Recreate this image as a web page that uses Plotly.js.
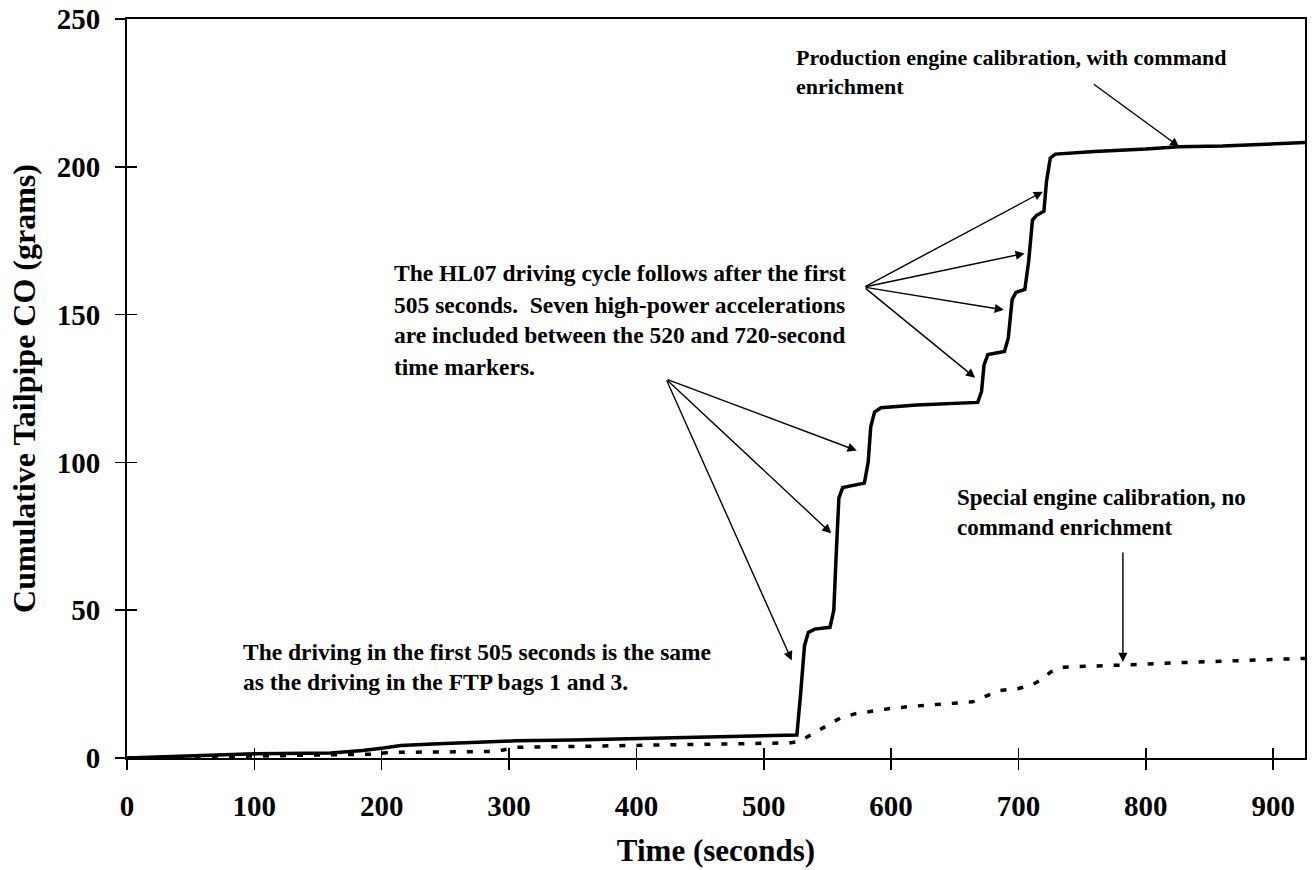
<!DOCTYPE html>
<html>
<head>
<meta charset="utf-8">
<script src="https://cdn.plot.ly/plotly-3.0.1.min.js"></script>
<style>html,body{margin:0;padding:0;background:#fff;}#chart{width:1314px;height:870px;}</style>
</head>
<body>
<div id="chart"></div>
<script>
// Production engine calibration (solid)
const prodTime = [0,20,60,85,100,160,185,200,215,240,280,305,350,411,460,500,526,529,532,535,540,552,555,557,559,562,570,579,582,584,587,592,620,650,668,671,673,676,689,692,695,698,705,708,711,714,720,722,725,729,760,800,826,860,900,925];
const prodCO   = [0,0.3,0.8,1.2,1.4,1.7,2.5,3.3,4.2,4.7,5.3,5.8,6.1,6.7,7.1,7.5,7.8,22,38,42.5,43.6,44.2,50,70,88,91.5,92.3,93,100,112,117,118.5,119.4,119.8,120.3,124,133,136.5,137.5,142,155,157.5,158.5,168,182,183.5,185,195,203,204.3,205.2,206,206.8,207,207.8,208.2];
// Special engine calibration (dotted)
const specTime = [0,50,100,150,195,205,250,290,305,350,420,480,520,528,540,550,560,572,585,600,620,640,664,675,685,700,710,718,725,733,760,785,830,880,925];
const specCO   = [0,0.3,0.8,1,1.3,1.9,2,2.2,3.6,3.9,4.3,4.8,5.1,5.6,8.5,11,13.5,15,15.8,16.8,17.6,18.3,19,21,22.8,23.5,24.6,26.5,29,30.7,31,31.5,32.3,33,33.7];

const xTicks = [0,100,200,300,400,500,600,700,800,900];
const yTicks = [0,50,100,150,200,250];

const FONT = 'Liberation Serif, Times New Roman, serif';

const traces = [
  {x: prodTime, y: prodCO, type: 'scatter', mode: 'lines', line: {color: '#000', width: 3.5}, hoverinfo: 'skip'},
  {x: specTime, y: specCO, xaxis: 'x2', yaxis: 'y2', type: 'scatter', mode: 'lines', line: {color: '#000', width: 3.5, dash: '6px,11px'}, hoverinfo: 'skip'}
];

function textLine(x, y, t, size) {
  return {x: x, y: y, xref: 'x', yref: 'y', text: t, showarrow: false, xanchor: 'left', yanchor: 'middle',
          font: {family: FONT, size: size || 23, color: '#000', weight: 'bold'}};
}
function arrow(hx, hy, tx, ty) {
  return {x: hx, y: hy, ax: tx, ay: ty, xref: 'x', yref: 'y', axref: 'x', ayref: 'y', text: '',
          showarrow: true, arrowhead: 2, arrowsize: 1.3, arrowwidth: 1.4, arrowcolor: '#000', standoff: 0};
}

const annotations = [
  textLine(523.8, 237.1, 'Production engine calibration, with command', 22),
  textLine(523.8, 227.3, 'enrichment', 22),
  textLine(208.1, 164.1, 'The HL07 driving cycle follows after the first', 23.5),
  textLine(208.1, 153.2, '505 seconds.&nbsp; Seven high-power accelerations', 23.5),
  textLine(208.1, 143.1, 'are included between the 520 and 720-second', 23.5),
  textLine(208.1, 132.3, 'time markers.', 23.5),
  textLine(89.5, 35.9, 'The driving in the first 505 seconds is the same', 23.5),
  textLine(89.5, 25.7, 'as the driving in the FTP bags 1 and 3.', 23.5),
  textLine(650, 88, 'Special engine calibration, no', 23),
  textLine(650, 78, 'command enrichment', 23),
  arrow(826.2, 206.8, 758, 228.3),
  arrow(719.2, 191.6, 578.8, 159.3),
  arrow(704.9, 170.7, 578.8, 159.3),
  arrow(688.5, 151.6, 578.8, 159.3),
  arrow(666, 128.6, 578.8, 159.3),
  arrow(573, 104, 423.3, 128.2),
  arrow(553, 76, 423.3, 128.2),
  arrow(522, 33, 423.3, 128.2),
  arrow(782, 32.5, 782, 70)
];

const tickFont = {family: FONT, size: 29, color: '#000', weight: 'bold'};

const layout = {
  width: 1314, height: 870,
  margin: {l: 127, r: 9, t: 19, b: 112, pad: 0},
  paper_bgcolor: '#fff', plot_bgcolor: '#fff',
  showlegend: false,
  font: {family: FONT, color: '#000', weight: 'bold'},
  xaxis: {
    range: [0, 925], tickmode: 'array', tickvals: xTicks, ticktext: xTicks.map(String),
    ticks: 'outside', ticklen: 10, tickwidth: 1.5, tickcolor: '#000',
    showline: true, linecolor: '#000', linewidth: 2, mirror: true, showgrid: false, zeroline: false,
    tickfont: tickFont, ticklabelstandoff: 11,
    title: {text: 'Time (seconds)', font: {family: FONT, size: 31, color: '#000', weight: 'bold'}, standoff: 19}
  },
  xaxis2: {
    overlaying: 'x', anchor: 'y', side: 'bottom', range: [0, 925], tickmode: 'array', tickvals: xTicks,
    ticks: 'inside', ticklen: 10, tickwidth: 1.5, tickcolor: '#000', showticklabels: false,
    showline: false, showgrid: false, zeroline: false
  },
  yaxis: {
    range: [0, 250], tickmode: 'array', tickvals: yTicks, ticktext: yTicks.map(String),
    ticks: 'outside', ticklen: 10, tickwidth: 1.5, tickcolor: '#000',
    showline: true, linecolor: '#000', linewidth: 2, mirror: true, showgrid: false, zeroline: false,
    tickfont: tickFont, ticklabelstandoff: 9,
    title: {text: 'Cumulative Tailpipe CO (grams)', font: {family: FONT, size: 32, color: '#000', weight: 'bold'}, standoff: 12}
  },
  yaxis2: {
    overlaying: 'y', anchor: 'x', side: 'left', range: [0, 250], tickmode: 'array', tickvals: yTicks,
    ticks: 'inside', ticklen: 10, tickwidth: 1.5, tickcolor: '#000', showticklabels: false,
    showline: false, showgrid: false, zeroline: false
  },
  annotations: annotations
};

Plotly.newPlot('chart', traces, layout, {displayModeBar: false, staticPlot: true});
</script>
</body>
</html>
